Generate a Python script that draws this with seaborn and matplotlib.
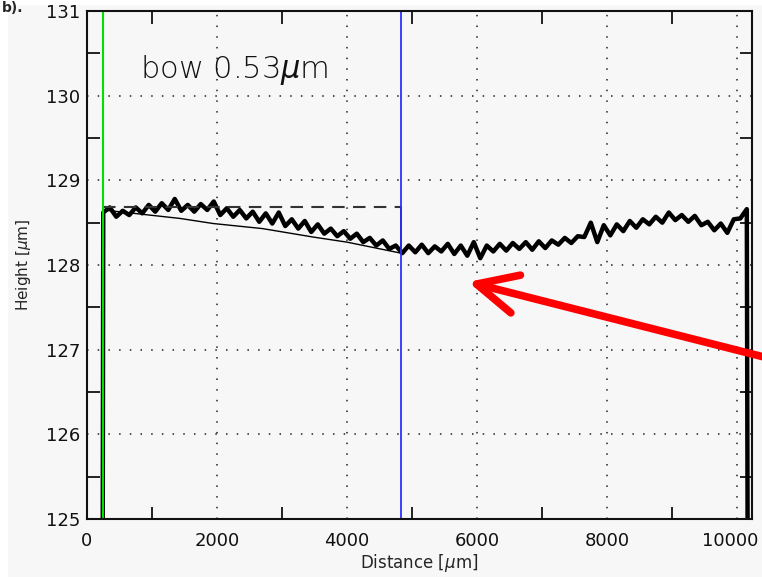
import numpy as np
import pandas as pd
import seaborn as sns
import matplotlib.pyplot as plt
import matplotlib.transforms as mtransforms
from matplotlib.ticker import MultipleLocator
from matplotlib.patches import Rectangle

# measured surface profile (height in um), sampled every 100 um from 250 to 10150 um
height = [128.62, 128.68, 128.57, 128.64, 128.59, 128.68, 128.61, 128.71, 128.63, 128.73,
          128.65, 128.78, 128.64, 128.71, 128.63, 128.72, 128.65, 128.75, 128.59, 128.67,
          128.57, 128.65, 128.55, 128.63, 128.51, 128.61, 128.49, 128.62, 128.46, 128.54,
          128.43, 128.52, 128.39, 128.48, 128.37, 128.43, 128.34, 128.40, 128.31, 128.37,
          128.27, 128.32, 128.23, 128.29, 128.19, 128.23, 128.14, 128.23, 128.15, 128.24,
          128.14, 128.22, 128.16, 128.25, 128.13, 128.23, 128.11, 128.27, 128.08, 128.23,
          128.16, 128.25, 128.17, 128.26, 128.19, 128.27, 128.18, 128.28, 128.20, 128.29,
          128.24, 128.32, 128.26, 128.34, 128.33, 128.50, 128.27, 128.47, 128.35, 128.48,
          128.40, 128.52, 128.44, 128.54, 128.48, 128.57, 128.50, 128.62, 128.53, 128.59,
          128.51, 128.58, 128.47, 128.51, 128.41, 128.49, 128.38, 128.54, 128.55, 128.66]
distance = list(np.arange(250, 10151, 100))
# profile edges drop off the plot
edge_left = [240, 124.0]
edge_right = [10165, 124.0]

# reference fit below the profile
fit_x = [250, 1430, 1940, 2700, 3480, 4000, 4830]
fit_y = [128.65, 128.55, 128.49, 128.43, 128.33, 128.27, 128.14]

cursor_left = 246
cursor_right = 4830
bow_level = 128.69
bow_label = 'bow 0.53$\\mu$m'

prof = pd.DataFrame({
    'Distance': [edge_left[0]] + distance + [edge_right[0]],
    'Height': [edge_left[1]] + height + [edge_right[1]],
})
fit = pd.DataFrame({'Distance': fit_x, 'Height': fit_y})

sns.set_theme(style='ticks')
plt.rcParams['font.family'] = ['DejaVu Sans']

fig = plt.figure(figsize=(7.62, 5.77), dpi=100, facecolor='#f7f7f7')
ax = fig.add_axes([87/762, 1 - 519/577, (752-87)/762, (519-11)/577])
ax.set_facecolor('#f7f7f7')

sns.lineplot(data=prof, x='Distance', y='Height', color='black', lw=3.2,
             sort=False, estimator=None, ax=ax)
sns.lineplot(data=fit, x='Distance', y='Height', color='black', lw=1.0,
             sort=False, estimator=None, ax=ax)

ax.plot([cursor_left, cursor_right], [bow_level, bow_level], color='#333333',
        lw=1.5, dashes=(6, 4))
ax.plot([cursor_right, cursor_right], [fit_y[-1], bow_level], color='black', lw=1.3)
ax.axvline(cursor_left, color='#00e000', lw=1.5)
ax.axvline(cursor_right, color='#3030ff', lw=1.3)

ax.text(815, 130.3, bow_label, fontsize=22, fontweight='light', va='center',
        color='#111111')

ax.annotate('', xy=(5862, 127.80), xytext=(10585, 126.88), annotation_clip=False,
            arrowprops=dict(arrowstyle='->,head_length=2.9,head_width=1.4',
                            color='red', lw=5.5, shrinkA=0, shrinkB=0,
                            capstyle='round', joinstyle='round',
                            mutation_scale=10, clip_on=False))

ax.set_xlim(0, 10230)
ax.set_ylim(125, 131)
ax.xaxis.set_major_locator(MultipleLocator(2000))
ax.xaxis.set_minor_locator(MultipleLocator(1000))
ax.yaxis.set_major_locator(MultipleLocator(1))
ax.yaxis.set_minor_locator(MultipleLocator(0.5))
ax.tick_params(which='major', length=0, labelsize=13, pad=9, colors='#111111',
               top=True, right=True, direction='in')
ax.tick_params(axis='y', which='major', pad=5)
ax.tick_params(which='minor', length=9, width=1.3, direction='in',
               top=True, right=True, color='#111111')
ax.grid(True, which='major', color='#222222', lw=1.1, linestyle=(0, (1, 6)))
for s in ax.spines.values():
    s.set_linewidth(1.5)
    s.set_color('#111111')

# nudge the last x label so it stays inside the picture
for tick in ax.xaxis.get_major_ticks():
    if abs(tick.get_loc() - 10000) < 1:
        lab = tick.label1
        lab.set_transform(lab.get_transform() +
                          mtransforms.ScaledTranslation(-5/72, 0, fig.dpi_scale_trans))

ax.set_xlabel('Distance [$\\mu$m]', fontsize=12, labelpad=2)
ax.set_ylabel('Height [$\\mu$m]', fontsize=11, labelpad=9)

# white margins of the original capture and the panel label in the corner
fig.add_artist(Rectangle((0, 0), 7/762, 1, transform=fig.transFigure,
                         color='white', zorder=-1))
fig.add_artist(Rectangle((0, 1 - 4/577), 1, 4/577, transform=fig.transFigure,
                         color='white', zorder=-1))
fig.text(0.002, 0.998, 'b).', fontsize=10, fontweight='bold', va='top', ha='left')

fig.savefig('out.png', dpi=100, facecolor=fig.get_facecolor())
